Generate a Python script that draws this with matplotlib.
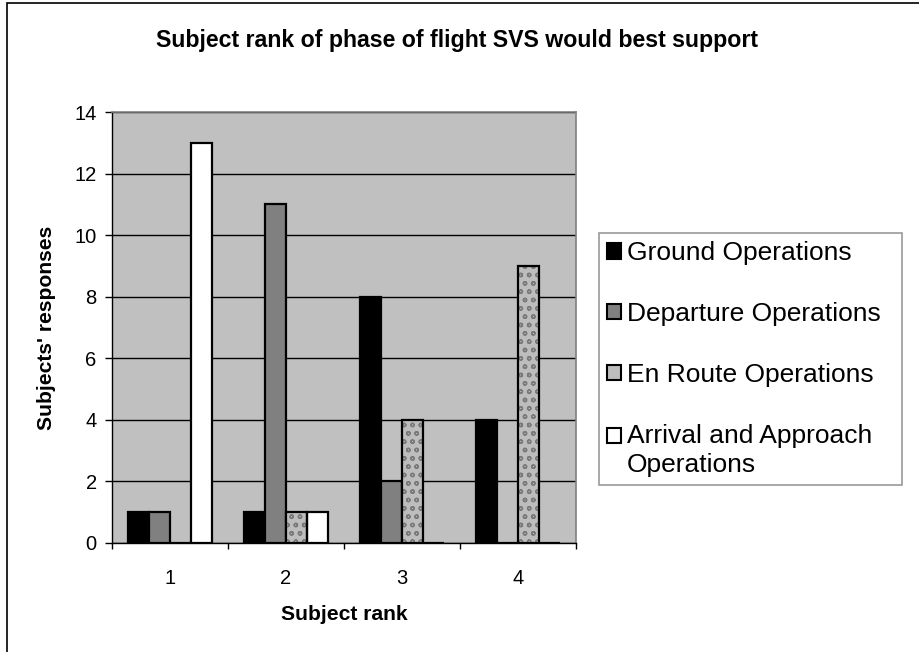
import numpy as np
import matplotlib
matplotlib.use('Agg')
import matplotlib.pyplot as plt
from matplotlib.patches import Rectangle

plt.rcParams['font.family'] = ['Liberation Sans', 'DejaVu Sans']

# --- Dados ---
ranks = [1, 2, 3, 4]
series = ['Ground Operations', 'Departure Operations', 'En Route Operations',
          'Arrival and Approach\nOperations']
ground = [1, 1, 8, 4]
departure = [1, 11, 2, 0]
en_route = [0, 1, 4, 9]
arrival = [13, 1, 0, 0]
valores = [ground, departure, en_route, arrival]
yticks = [0, 2, 4, 6, 8, 10, 12, 14]

cores = ['black', '#808080', '#bdbdbd', 'white']

# --- Figura ---
fig = plt.figure(figsize=(9.2, 6.52), dpi=100)
ax = fig.add_axes([112/920, 109/652, 464/920, 431/652])
ax.set_facecolor('#c0c0c0')

x = np.array(ranks, dtype=float)
w = 0.181
for i, (nome, vals) in enumerate(zip(series, valores)):
    pos = x + (i - 1.5) * w
    if i == 2:
        # textura pontilhada (aproximação do padrão do Excel)
        ax.bar(pos, vals, width=w, color=cores[i], edgecolor='#7a7a7a',
               hatch='oo', linewidth=0, zorder=3)
        ax.bar(pos, vals, width=w, facecolor='none', edgecolor='black',
               linewidth=1.6, zorder=4)
    else:
        ax.bar(pos, vals, width=w, color=cores[i], edgecolor='black',
               linewidth=1.6, zorder=3)

ax.set_xlim(0.5, 4.5)
ax.set_ylim(0, 14)
ax.set_yticks(yticks)
ax.set_xticks(ranks)
ax.set_xticks([0.5, 1.5, 2.5, 3.5, 4.5], minor=True)
ax.tick_params(axis='x', which='major', length=0, pad=19, labelsize=14.5)
ax.tick_params(axis='x', which='minor', length=4.5, width=1, direction='out')
ax.tick_params(axis='y', length=5, width=1, direction='out', pad=6, labelsize=14.5)
ax.grid(axis='y', color='black', linewidth=1, zorder=1)
ax.set_axisbelow(True)

for lado in ['top', 'right']:
    ax.spines[lado].set_color('#808080')
    ax.spines[lado].set_linewidth(1.2)
for lado in ['left', 'bottom']:
    ax.spines[lado].set_color('black')
    ax.spines[lado].set_linewidth(1)

ax.set_xlabel('Subject rank', fontsize=15.2, fontweight='bold', labelpad=12)
ax.set_ylabel("Subjects' responses", fontsize=15.2, fontweight='bold', labelpad=13)

fig.text(0.497, 1 - 40/652, 'Subject rank of phase of flight SVS would best support',
         ha='center', va='center', fontsize=16.7, fontweight='bold')

# --- Legenda ---
handles = [Rectangle((0, 0), 1, 1, facecolor=c, edgecolor='black', linewidth=1.5)
           for c in cores]
leg = fig.legend(handles, series, loc='upper left',
                 bbox_to_anchor=(599/920, 1 - 482/652, 303/920, 249/652),
                 mode='expand', fontsize=19, frameon=True, fancybox=False,
                 edgecolor='#808080', handlelength=0.55, handleheight=0.55,
                 handletextpad=0.2, labelspacing=1.4, borderpad=0.3,
                 borderaxespad=0)
leg.get_frame().set_linewidth(1.2)
leg.get_texts()[3].set_linespacing(1.3)
# no Excel o marcador fica alinhado com a primeira linha do rótulo
h4 = leg.legend_handles[3]
h4.set_y(h4.get_y() + 11)

# borda da figura
fig.add_artist(Rectangle((7/920, -0.1), 1.2, 1 - 3/652 + 0.1, transform=fig.transFigure,
                         facecolor='none', edgecolor='black', linewidth=1.2))

plt.savefig('out.png', dpi=100)
plt.close()
